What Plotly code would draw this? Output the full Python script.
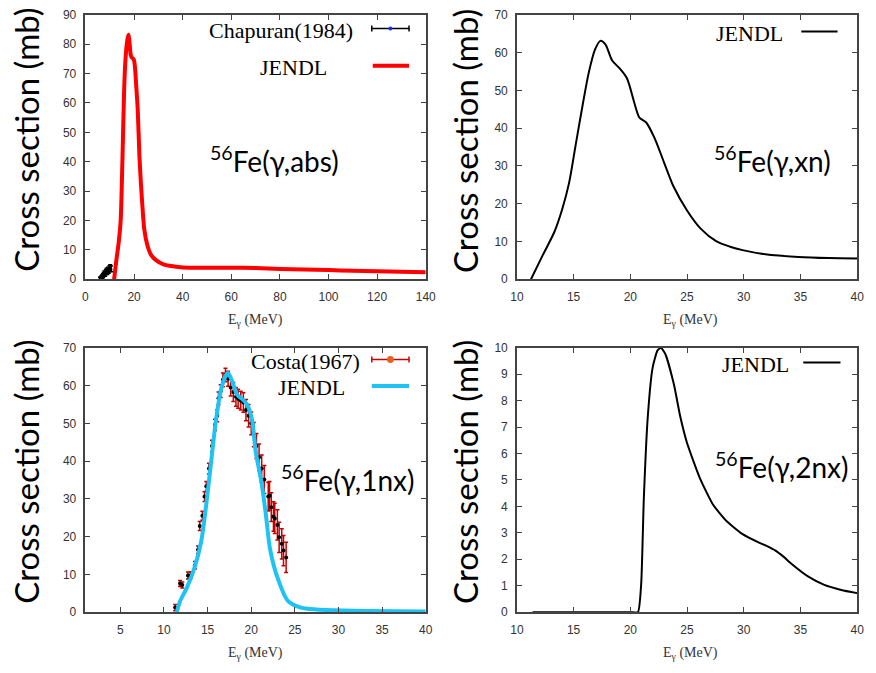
import plotly.graph_objects as go

# ---------------- data ----------------
# (gamma,abs) JENDL
abs_x = [11.8, 12.5, 13.7, 14.5, 15.2, 15.9, 16.4, 17.0, 17.5, 17.8, 18.2, 18.6, 19.0, 19.5, 20.0,
         20.5, 20.8, 21.5, 22.2, 22.8, 24.2, 25.5, 27.0, 29.0, 32.3, 36.0, 40.0, 50.0, 60.0, 70.0,
         80.0, 90.0, 100.0, 110.0, 120.0, 130.0, 140.0]
abs_y = [0.0, 5.0, 12.7, 20.0, 40.0, 63.8, 73.8, 80.0, 82.5, 83.2, 80.0, 76.5, 75.5, 75.2, 74.5,
         71.0, 67.0, 58.0, 42.0, 33.0, 17.0, 11.5, 8.3, 6.5, 5.0, 4.4, 4.0, 3.9, 3.9, 3.8,
         3.5, 3.3, 3.1, 2.9, 2.7, 2.55, 2.4]
# Chapuran (1984)
chap_x = [6.0, 6.3, 6.6, 6.9, 7.2, 7.5, 7.8, 8.1, 8.4, 8.7, 9.0, 9.3, 9.6, 9.9, 10.2, 10.5]
chap_y = [0.2, 0.3, 0.6, 0.9, 1.2, 1.6, 2.0, 1.8, 2.4, 2.8, 2.5, 3.2, 3.0, 3.6, 3.9, 3.5]
chap_e = [0.5, 0.5, 0.6, 0.6, 0.7, 0.7, 0.8, 0.8, 0.8, 0.9, 0.9, 0.9, 1.0, 1.0, 1.0, 1.0]

# (gamma,xn) JENDL
xn_x = [11.24, 12.3, 13.3, 14.0, 14.6, 15.2, 15.8, 16.35, 16.9, 17.36, 17.8, 18.4, 19.1, 19.7,
        20.4, 20.8, 21.4, 22.1, 23.0, 23.8, 25.0, 26.2, 27.6, 28.8, 29.9, 31.9, 34.8, 37.5, 40.0]
xn_y = [0.0, 6.5, 12.5, 18.6, 25.5, 35.9, 46.2, 54.9, 60.9, 63.1, 62.2, 57.9, 55.7, 53.2,
        46.2, 42.8, 41.5, 37.6, 30.7, 24.6, 18.2, 13.4, 10.0, 8.6, 7.7, 6.6, 5.9, 5.6, 5.5]

# (gamma,1nx) JENDL
n1_x = [11.47, 11.84, 12.59, 13.53, 14.28, 14.84, 15.40, 15.97, 16.53, 17.09, 17.35, 17.6, 17.84,
        18.40, 18.97, 19.53, 20.09, 20.5, 21.2, 21.7, 22.15, 22.9, 24.2, 25.7, 27.5, 29.5, 33.2, 40.0]
n1_y = [0.0, 2.9, 6.3, 12.0, 18.9, 28.4, 39.7, 51.0, 58.8, 62.7, 63.3, 62.3, 61.0,
        57.5, 56.4, 55.0, 51.0, 42.7, 34.0, 25.4, 16.8, 9.9, 3.0, 1.2, 0.7, 0.5, 0.3, 0.2]
# Costa (1967)
costa_x = [11.28, 11.84, 12.1, 12.75, 13.05, 13.55, 13.9, 14.1, 14.4, 14.65, 14.85, 15.15, 15.5,
           15.85, 16.1, 16.25, 16.5, 16.75, 17.05, 17.35, 17.65, 17.95, 18.25, 18.5, 18.8, 19.1,
           19.4, 19.7, 20.0, 20.3, 20.6, 20.9, 21.2, 21.5, 21.95, 22.1, 22.3, 22.55, 22.7, 23.0,
           23.2, 23.5, 23.7, 24.0]
costa_y = [1.2, 7.6, 7.2, 9.7, 9.8, 12.4, 16.5, 22.8, 25.5, 30.6, 33.3, 38.0, 44.0,
           49.6, 52.0, 56.6, 58.5, 61.5, 62.8, 61.8, 59.5, 58.3, 57.0, 56.5, 56.0, 55.5,
           53.5, 52.0, 50.0, 47.0, 44.0, 41.0, 38.0, 35.1, 30.6, 30.8, 27.8, 25.3, 24.8, 23.1,
           19.8, 18.1, 16.3, 14.5]
costa_e = [0.8, 0.8, 0.8, 0.9, 0.9, 1.0, 1.0, 1.2, 1.2, 1.3, 1.3, 1.4, 1.5,
           1.5, 1.6, 1.7, 1.7, 1.8, 1.8, 2.0, 2.3, 2.5, 2.5, 2.5, 2.5, 2.6,
           2.8, 3.0, 3.0, 3.2, 3.3, 3.5, 3.6, 3.7, 3.8, 3.8, 3.8, 3.9, 4.0, 4.0,
           4.0, 4.0, 4.0, 4.0]

# (gamma,2nx) JENDL
n2_x = [11.38, 15.0, 20.0, 20.67, 20.96, 21.19, 21.54, 21.97, 22.4, 22.7, 23.1, 23.85, 24.4, 25.0,
        26.15, 27.3, 28.5, 29.9, 31.3, 32.1, 32.8, 33.5, 34.2, 35.7, 37.1, 38.6, 40.0]
n2_y = [0.0, 0.0, 0.0, 0.0, 1.09, 4.3, 7.4, 9.26, 9.9, 10.0, 9.75, 8.6, 7.4, 6.4,
        5.05, 4.06, 3.44, 2.95, 2.64, 2.49, 2.33, 2.1, 1.83, 1.34, 1.03, 0.84, 0.72]

W, H = 876, 673

def px(x):
    return x / W

def py(y):
    return 1 - y / H

fig = go.Figure()

# top-left
fig.add_trace(go.Scatter(x=chap_x, y=chap_y, mode="markers", xaxis="x", yaxis="y",
                         marker=dict(color="black", size=3),
                         error_y=dict(type="data", array=chap_e, color="black", thickness=1.5, width=2)))
fig.add_trace(go.Scatter(x=abs_x, y=abs_y, mode="lines", xaxis="x", yaxis="y",
                         line=dict(color="#ff0000", width=4, shape="spline", smoothing=0.6)))
# top-right
fig.add_trace(go.Scatter(x=xn_x, y=xn_y, mode="lines", xaxis="x2", yaxis="y2",
                         line=dict(color="black", width=2, shape="spline", smoothing=0.8)))
# bottom-left
fig.add_trace(go.Scatter(x=costa_x, y=costa_y, mode="markers", xaxis="x3", yaxis="y3",
                         marker=dict(color="black", size=4),
                         error_y=dict(type="data", array=costa_e, color="#c40000", thickness=1.5, width=2)))
fig.add_trace(go.Scatter(x=n1_x, y=n1_y, mode="lines", xaxis="x3", yaxis="y3",
                         line=dict(color="#1ec3f3", width=4, shape="spline", smoothing=0.8)))
# bottom-right
fig.add_trace(go.Scatter(x=n2_x, y=n2_y, mode="lines", xaxis="x4", yaxis="y4",
                         line=dict(color="black", width=2, shape="spline", smoothing=0.5)))

axis_common = dict(showline=True, mirror="ticks", linecolor="#444", linewidth=1.5,
                   ticks="inside", ticklen=5, tickcolor="#444", showgrid=False, zeroline=False,
                   tickfont=dict(family="Liberation Sans, Arial", size=12, color="#333"))

left_dom = [px(80), px(427)]
right_dom = [px(520), px(867)]
top_dom = [py(278), py(8)]
bot_dom = [py(618), py(348)]

fig.update_layout(
    width=W, height=H, margin=dict(l=0, r=0, t=0, b=0),
    paper_bgcolor="white", plot_bgcolor="white", showlegend=False,
    xaxis=dict(domain=left_dom, anchor="y", range=[0, 140], dtick=20, ticklabelstandoff=6, **axis_common),
    yaxis=dict(domain=top_dom, anchor="x", range=[0, 90], dtick=10, ticklabelstandoff=5, **axis_common),
    xaxis2=dict(domain=right_dom, anchor="y2", range=[10, 40], dtick=5, ticklabelstandoff=6, **axis_common),
    yaxis2=dict(domain=top_dom, anchor="x2", range=[0, 70], dtick=10, ticklabelstandoff=5, **axis_common),
    xaxis3=dict(domain=left_dom, anchor="y3", range=[1, 40], tick0=0, dtick=5, ticklabelstandoff=6, **axis_common),
    yaxis3=dict(domain=bot_dom, anchor="x3", range=[0, 70], dtick=10, ticklabelstandoff=5, **axis_common),
    xaxis4=dict(domain=right_dom, anchor="y4", range=[10, 40], dtick=5, ticklabelstandoff=6, **axis_common),
    yaxis4=dict(domain=bot_dom, anchor="x4", range=[0, 10], dtick=1, ticklabelstandoff=5, **axis_common),
)

ann = []
shapes = []
sans = "Lato, Open Sans, sans-serif"
serif = "Liberation Serif, Times New Roman, serif"

# y titles
for xc, yc in [(20, 136), (467, 137), (20, 475), (467, 475)]:
    ann.append(dict(x=px(xc), y=py(yc), xref="paper", yref="paper", text="Cross section (mb)",
                    textangle=-90, showarrow=False, font=dict(family=sans, size=33, color="black"),
                    xanchor="center", yanchor="middle"))
# x titles
for xc, yc in [(253, 320), (697, 320), (253, 660), (697, 660)]:
    ann.append(dict(x=px(xc), y=py(yc), xref="paper", yref="paper",
                    text="E<sub>γ</sub> (MeV)", showarrow=False,
                    font=dict(family=serif, size=14, color="#333"),
                    xanchor="center", yanchor="middle"))
# reaction labels
for xc, yc, t in [(273, 156, "<sup>56</sup>Fe(γ,abs)"), (781, 156, "<sup>56</sup>Fe(γ,xn)"),
                  (347, 482, "<sup>56</sup>Fe(γ,1nx)"), (790, 468, "<sup>56</sup>Fe(γ,2nx)")]:
    ann.append(dict(x=px(xc), y=py(yc), xref="paper", yref="paper", text=t, showarrow=False,
                    font=dict(family=sans, size=28, color="black"), xanchor="center", yanchor="middle"))

# legend entries: (text right edge, y, text, sample x0, x1, color, width, errorbar, dot color)
legend_items = [
    (355, 24, "Chapuran(1984)", 372, 410, "black", 1.5, True, "#1030ff"),
    (328, 62, "JENDL", 373, 410, "#ff0000", 4, False, None),
    (793, 27, "JENDL", 810, 847, "black", 2, False, None),
    (362, 362, "Costa(1967)", 372, 410, "#c40000", 1.5, True, "#e8601c"),
    (347, 389, "JENDL", 372, 410, "#1ec3f3", 4, False, None),
    (800, 365, "JENDL", 812, 850, "black", 2, False, None),
]
for tx, ty, t, x0, x1, col, lw, eb, dot in legend_items:
    ann.append(dict(x=px(tx), y=py(ty), xref="paper", yref="paper", text=t, showarrow=False,
                    font=dict(family=serif, size=22, color="black"), xanchor="right", yanchor="middle"))
    sy = ty - 2
    shapes.append(dict(type="line", xref="paper", yref="paper", x0=px(x0), x1=px(x1),
                       y0=py(sy), y1=py(sy), line=dict(color=col, width=lw)))
    if eb:
        for xe in (x0, x1):
            shapes.append(dict(type="line", xref="paper", yref="paper", x0=px(xe), x1=px(xe),
                               y0=py(sy - 3), y1=py(sy + 3), line=dict(color=col, width=1.5)))
        r = 2 if dot == "#1030ff" else 3.5
        xm = (x0 + x1) / 2
        shapes.append(dict(type="circle", xref="paper", yref="paper", x0=px(xm - r), x1=px(xm + r),
                           y0=py(sy + r), y1=py(sy - r), fillcolor=dot, line=dict(color=dot, width=0)))

fig.update_layout(annotations=ann, shapes=shapes)
fig.write_html("out.html",
               config={"displayModeBar": False},
               post_script="document.body.style.margin='0';document.body.style.padding='0';"
                           "window.dispatchEvent(new Event('resize'));")
